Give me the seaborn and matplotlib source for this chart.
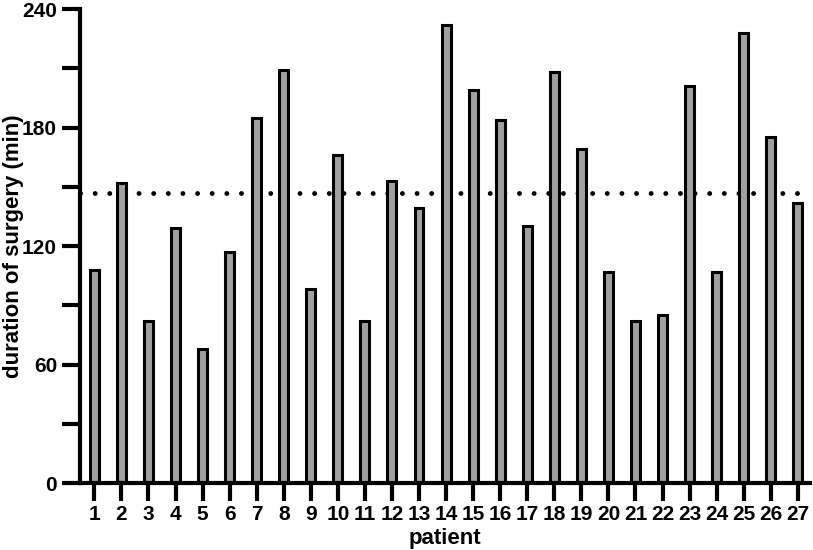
import seaborn as sns
import matplotlib.pyplot as plt
import pandas as pd
import numpy as np
from matplotlib.ticker import MultipleLocator

# Values
patients = [str(i) for i in range(1, 28)]
duration = [108, 152, 82, 129, 68, 117, 185, 209, 98, 166, 82, 153, 139, 232,
             199, 184, 130, 208, 169, 107, 82, 85, 201, 107, 228, 175, 142]
mean_line = 147

df = pd.DataFrame({"patient": patients, "duration": duration})

sns.set_style("ticks")
plt.rcParams["font.family"] = ["Liberation Sans", "DejaVu Sans"]
plt.rcParams["font.weight"] = "bold"
plt.rcParams["text.color"] = "black"
plt.rcParams["axes.labelcolor"] = "black"

fig = plt.figure(figsize=(8.13, 5.5), dpi=100)
ax = fig.add_axes([0.0984, 0.1218, 0.8979, 0.8618])

sns.barplot(data=df, x="patient", y="duration", color="#a0a0a0",
            saturation=1, width=0.33, edgecolor="black", linewidth=2.2, ax=ax)

ax.axhline(mean_line, color="black", linestyle=(0, (0.01, 3.0)), linewidth=3.5,
           dash_capstyle="round", zorder=0.5)

ax.set_ylim(0, 240)
ax.set_xlim(-0.53, 26.45)
ax.yaxis.set_major_locator(MultipleLocator(60))
ax.yaxis.set_minor_locator(MultipleLocator(30))

sns.despine(ax=ax)
for s in ["left", "bottom"]:
    ax.spines[s].set_linewidth(3)
    ax.spines[s].set_color("black")
ax.tick_params(axis="both", which="both", width=3, length=13, labelsize=15,
               colors="black", labelcolor="black")
ax.tick_params(axis="x", pad=3)
ax.tick_params(axis="y", pad=3.5)
for lab in ax.get_xticklabels() + ax.get_yticklabels():
    lab.set_fontweight("bold")

ax.set_xlabel("patient", fontsize=16, fontweight="bold", labelpad=3, color="black")
ax.set_ylabel("duration of surgery (min)", fontsize=16, fontweight="bold", color="black")
ax.yaxis.set_label_coords(-0.077, 0.5)

fig.savefig("out.png", dpi=100)
plt.close()
